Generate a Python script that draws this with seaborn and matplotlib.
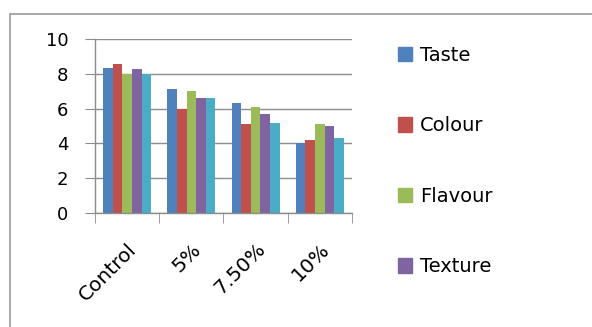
import numpy as np
import pandas as pd
import matplotlib
matplotlib.use("Agg")
import matplotlib.pyplot as plt
import seaborn as sns
from matplotlib.patches import Rectangle

categories = ["Control", "5%", "7.50%", "10%"]
series = ["Taste", "Colour", "Flavour", "Texture", "Overall acceptability"]
taste = [8.35, 7.1, 6.3, 4.0]
colour = [8.55, 6.0, 5.1, 4.2]
flavour = [8.0, 7.0, 6.1, 5.1]
texture = [8.3, 6.6, 5.7, 5.0]
overall = [8.0, 6.6, 5.2, 4.3]
colors = ["#4F81BD", "#C0504D", "#9BBB59", "#8064A2", "#4BACC6"]

df = pd.DataFrame({
    "category": categories * 5,
    "series": np.repeat(series, 4),
    "score": taste + colour + flavour + texture + overall,
})

sns.set_style("white")
plt.rcParams["font.family"] = ["DejaVu Sans"]
plt.rcParams["text.color"] = "black"
plt.rcParams["xtick.labelcolor"] = "black"
plt.rcParams["ytick.labelcolor"] = "black"

fig = plt.figure(figsize=(5.92, 3.27), dpi=100)
W, H = 592, 327
ax = fig.add_axes([95 / W, 1 - 213 / H, 257 / W, 174 / H])

sns.barplot(data=df, x="category", y="score", hue="series", palette=colors,
            width=0.75, gap=0, saturation=1, linewidth=0, ax=ax, legend=False)

ax.set_ylim(0, 10)
ax.set_xlim(-0.5, 3.5)
ax.set_yticks(range(0, 11, 2))
ax.yaxis.grid(True, color="#8c8c8c", linewidth=1)
ax.set_axisbelow(True)
ax.set_xlabel("")
ax.set_ylabel("")
for s in ["top", "right"]:
    ax.spines[s].set_visible(False)
for s in ["left", "bottom"]:
    ax.spines[s].set_color("#8c8c8c")
    ax.spines[s].set_linewidth(1)

ax.tick_params(axis="y", length=7, color="#8c8c8c", labelsize=13, pad=12, left=True)
ax.set_xticks(range(4))
ax.set_xticklabels(categories, rotation=45, ha="right", rotation_mode="anchor", fontsize=14.5)
ax.tick_params(axis="x", length=0, pad=19)
ax.set_xticks([-0.5, 0.5, 1.5, 2.5, 3.5], minor=True)
ax.tick_params(axis="x", which="minor", length=7, color="#8c8c8c", bottom=True)

# legend shows the first four series only
handles = [plt.Rectangle((0, 0), 1, 1, color=c) for c in colors[:4]]
fig.legend(handles, series[:4], loc="upper left",
           bbox_to_anchor=(390 / W, 1 - 38 / H), frameon=False,
           fontsize=14, labelspacing=2.65, handlelength=0.75, handleheight=0.75,
           handletextpad=0.4, borderaxespad=0)

# chart area border (top and left visible)
fig.patches.append(Rectangle((10 / W, -0.1), 1.2, 1 - 14 / H + 0.1,
                             transform=fig.transFigure, fill=False,
                             edgecolor="#9a9a9a", linewidth=1.2))

fig.savefig("out.png", dpi=100)
